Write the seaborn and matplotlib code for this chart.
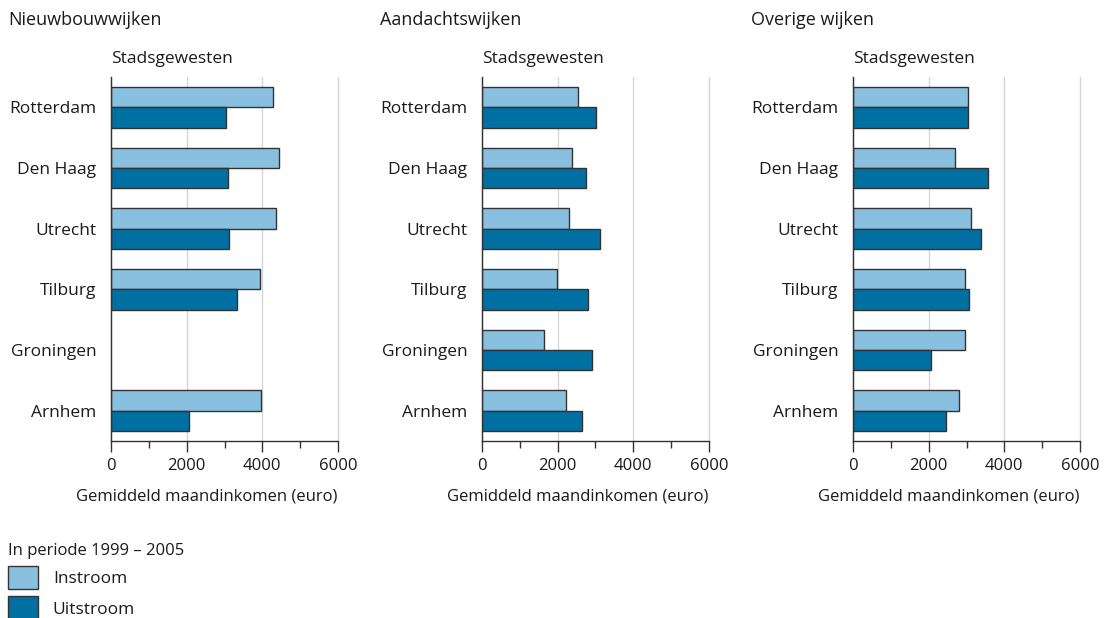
import numpy as np
import pandas as pd
import matplotlib
matplotlib.use("Agg")
import matplotlib.pyplot as plt
import seaborn as sns

# ---------------------------------------------------------------------------
# Data
# ---------------------------------------------------------------------------
cities = ["Rotterdam", "Den Haag", "Utrecht", "Tilburg", "Groningen", "Arnhem"]
panels = ["Nieuwbouwwijken", "Aandachtswijken", "Overige wijken"]
series = ["Instroom", "Uitstroom"]

nieuwbouw_in  = [4280, 4430, 4350, 3940, np.nan, 3960]
nieuwbouw_uit = [3040, 3080, 3110, 3340, np.nan, 2060]
aandacht_in   = [2550, 2370, 2300, 1970, 1630, 2220]
aandacht_uit  = [3020, 2750, 3120, 2790, 2900, 2650]
overig_in     = [3030, 2690, 3110, 2950, 2960, 2790]
overig_uit    = [3050, 3580, 3380, 3070, 2060, 2470]

xticks = [0, 2000, 4000, 6000]

values = {
    "Nieuwbouwwijken": (nieuwbouw_in, nieuwbouw_uit),
    "Aandachtswijken": (aandacht_in, aandacht_uit),
    "Overige wijken":  (overig_in, overig_uit),
}

palette = {"Instroom": "#89c0df", "Uitstroom": "#006fa2"}

# ---------------------------------------------------------------------------
# Plot
# ---------------------------------------------------------------------------
sns.set_style("white")
plt.rcParams["font.family"] = ["Open Sans", "DejaVu Sans"]

W, H = 1114, 618
fig = plt.figure(figsize=(W / 100, H / 100), dpi=100)

ax_lefts = [111, 482, 853]
title_x  = [8, 380, 751]
ax_w, ax_top, ax_bot = 227, 77, 441
txt = "#1a1a1a"

handles = labels = None
for i, name in enumerate(panels):
    vin, vuit = values[name]
    df = pd.DataFrame({
        "stad":   cities * 2,
        "waarde": list(vin) + list(vuit),
        "reeks":  [series[0]] * len(cities) + [series[1]] * len(cities),
    })
    ax = fig.add_axes([ax_lefts[i] / W, (H - ax_bot) / H,
                       ax_w / W, (ax_bot - ax_top) / H])
    sns.barplot(data=df, y="stad", x="waarde", hue="reeks", order=cities,
                hue_order=series, palette=palette, orient="h", width=0.67,
                edgecolor="#333333", linewidth=1.0, saturation=1,
                errorbar=None, ax=ax)
    if handles is None:
        handles, labels = ax.get_legend_handles_labels()
    ax.get_legend().remove()

    ax.set_xlim(0, 6000)
    ax.set_ylim(5.5, -0.5)
    ax.set_xticks(xticks)
    ax.set_xticks([1000, 3000, 5000], minor=True)
    ax.xaxis.grid(True, which="major", color="#d6d6d6", linewidth=1.0)
    for gl in ax.get_xgridlines():
        gl.set_clip_on(False)
    ax.set_axisbelow(True)
    for s in ["top", "right"]:
        ax.spines[s].set_visible(False)
    for s in ["left", "bottom"]:
        ax.spines[s].set_color("#333333")
        ax.spines[s].set_linewidth(1.0)
    ax.tick_params(axis="x", which="major", bottom=True, direction="out",
                   length=8, width=1, color="#333333", labelsize=12,
                   labelcolor=txt, pad=4)
    ax.tick_params(axis="x", which="minor", bottom=True, direction="out",
                   length=5, width=1, color="#333333")
    ax.tick_params(axis="y", left=False, length=0, labelsize=12.5,
                   labelcolor=txt, pad=10.5)
    ax.set_ylabel("")
    ax.set_xlabel("Gemiddeld maandinkomen (euro)", fontsize=12, color=txt)
    ax.xaxis.set_label_coords(0.42, -0.13)

    fig.text(title_x[i] / W, 1 - 11 / H, name, fontsize=13, va="top",
             ha="left", color=txt)
    fig.text(ax_lefts[i] / W, 1 - 59 / H, "Stadsgewesten", fontsize=12.5,
             va="center", ha="left", color=txt)

fig.legend(handles, labels, title="In periode 1999 \u2013 2005",
           loc="upper left", bbox_to_anchor=(8 / W, 1 - 543 / H),
           frameon=False, fontsize=12.5, title_fontsize=12,
           alignment="left", borderpad=0, borderaxespad=0,
           handlelength=1.72, handleheight=1.7, handletextpad=0.86,
           labelspacing=0.4)
leg = fig.legends[0]
leg.get_title().set_color(txt)
for t in leg.get_texts():
    t.set_color(txt)

fig.savefig("out.png", dpi=100)
